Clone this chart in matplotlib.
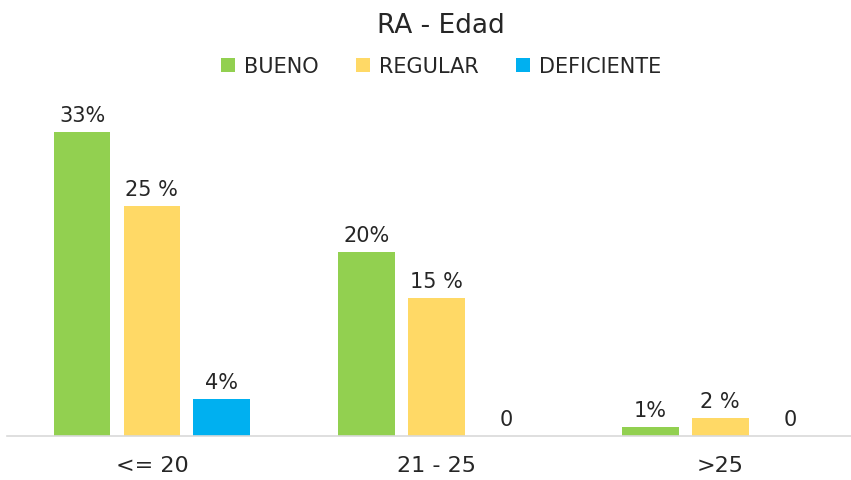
import matplotlib.pyplot as plt
import numpy as np

categories = ["<= 20", "21 - 25", ">25"]
series = ["BUENO", "REGULAR", "DEFICIENTE"]
bueno = [33, 20, 1]
regular = [25, 15, 2]
deficiente = [4, 0, 0]
labels_bueno = ["33%", "20%", "1%"]
labels_regular = ["25 %", "15 %", "2 %"]
labels_deficiente = ["4%", "0", "0"]

colors = ["#92d050", "#ffd966", "#00b0f0"]

plt.rcParams['font.family'] = ['Liberation Sans Narrow', 'DejaVu Sans']

fig = plt.figure(figsize=(8.51, 4.81), dpi=100)
ax = fig.add_axes([7 / 851, 44 / 481, 844 / 851, 337 / 481])

x = np.arange(len(categories))
width = 0.2
step = 0.246
values = [bueno, regular, deficiente]
texts = [labels_bueno, labels_regular, labels_deficiente]

for i, (vals, labs) in enumerate(zip(values, texts)):
    pos = x + (i - 1) * step
    ax.bar(pos, vals, width, color=colors[i], label=series[i])
    for p, v, t in zip(pos, vals, labs):
        ax.annotate(t, (p, v), xytext=(0, 5), textcoords="offset points",
                    ha="center", va="bottom", fontsize=15, color="#262626")

ax.set_xlim(-0.51, 2.46)
ax.set_ylim(0, 36.6)
ax.set_xticks(x)
ax.set_xticklabels(categories, fontsize=16, color="#262626")
ax.tick_params(axis="x", length=0, pad=14)
ax.set_yticks([])
for s in ["top", "right", "left"]:
    ax.spines[s].set_visible(False)
ax.spines["bottom"].set_color("#d9d9d9")
ax.spines["bottom"].set_linewidth(1.2)

fig.text(0.518, 0.945, "RA - Edad", ha="center", va="center", fontsize=19, color="#262626")
fig.legend(loc="center", bbox_to_anchor=(0.518, 0.86), ncol=3, frameon=False,
           fontsize=15, handlelength=0.7, handleheight=0.7, handletextpad=0.4,
           columnspacing=1.8, labelcolor="#262626")

fig.savefig("out.png", dpi=100)
